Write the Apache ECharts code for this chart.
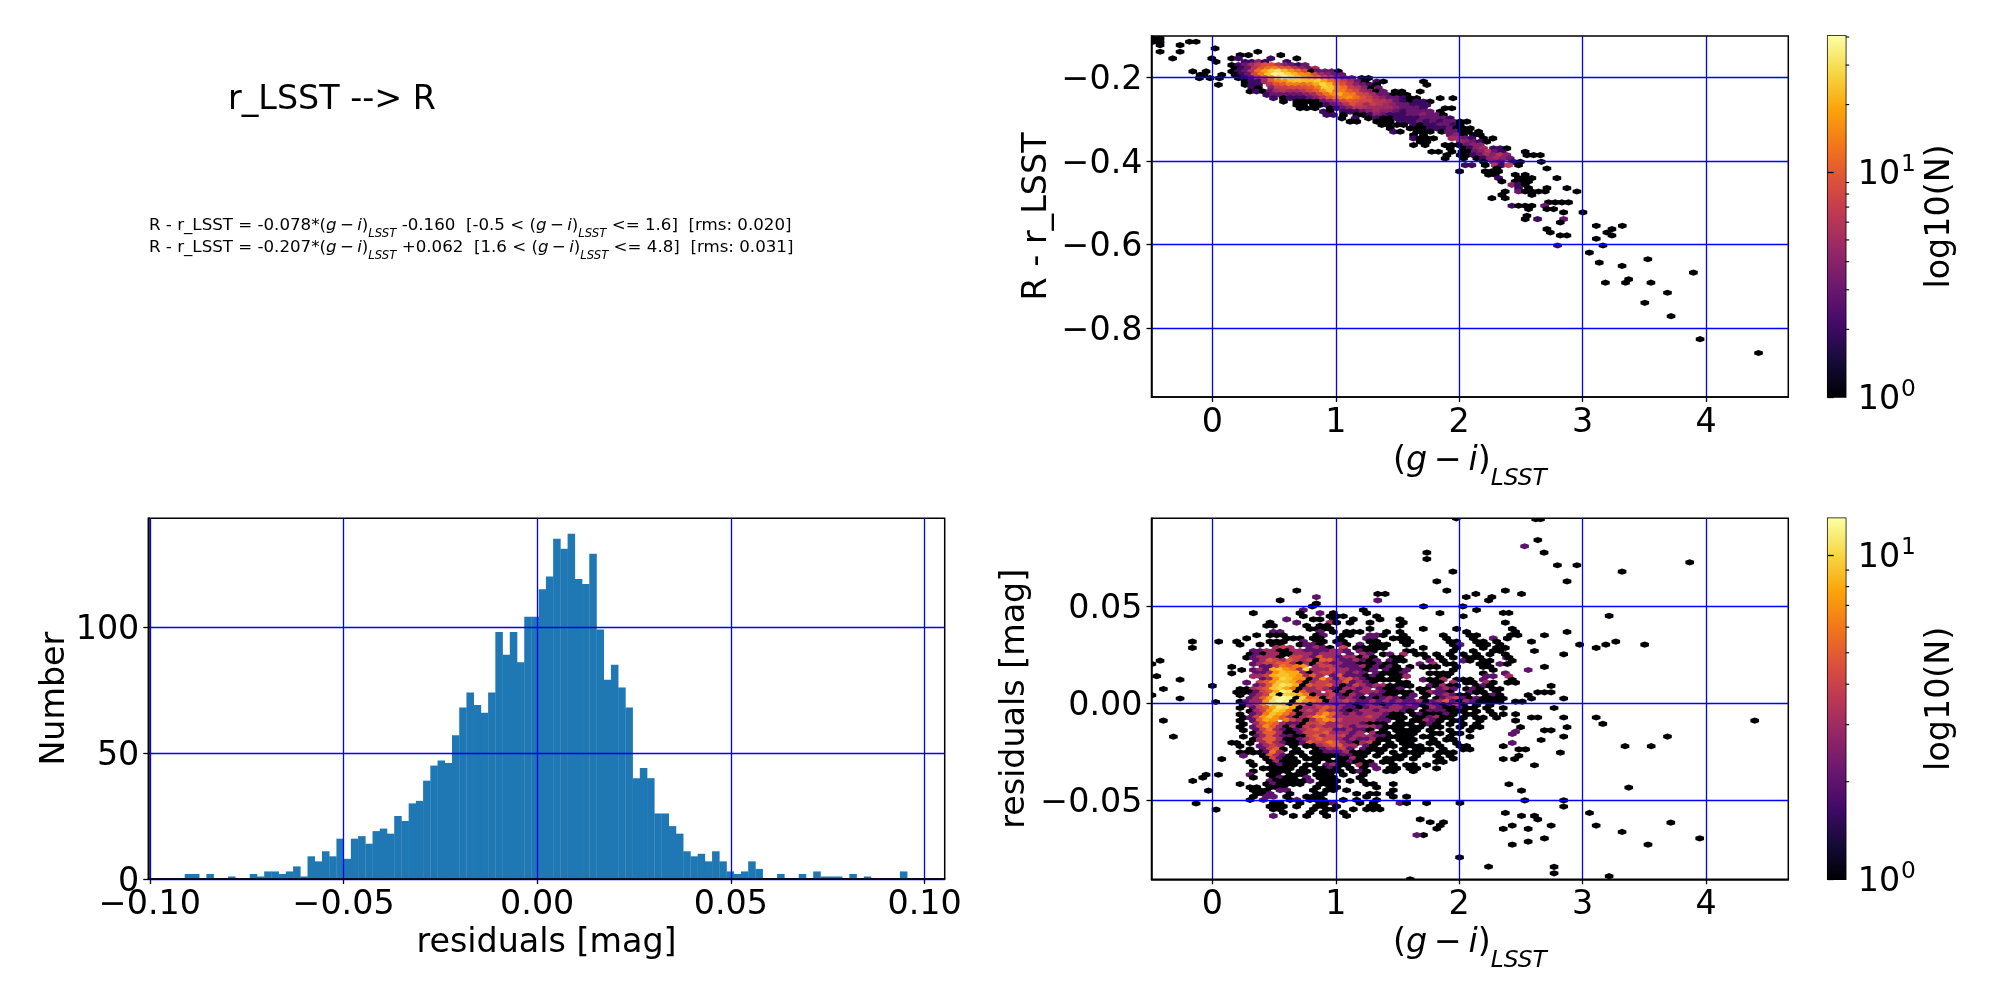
<!DOCTYPE html>
<html><head><meta charset="utf-8">
<style>html,body{margin:0;padding:0;background:#fff}#c{width:2000px;height:1000px}</style>
<script src="https://cdn.jsdelivr.net/npm/echarts@6/dist/echarts.min.js"></script>
</head><body><div id="c"></div>
<script>
// ---------- tick labels ----------
const colourTicks = [0,1,2,3,4];
const topYTicks = [-0.8,-0.6,-0.4,-0.2];
const histXTicks = [-0.1,-0.05,0,0.05,0.1];
const histYTicks = [0,50,100];
const resYTicks = [-0.05,0,0.05];
const cbMajor = [0,1];
const cbMinor = [2,3,4,5,6,7,8,9,20,30,40];
// ---------- histogram ----------
const histStart = -0.0910, histStep = 0.001865;
const histCounts = [2,2,0,2,0,0,1,0,0,2,1,3,3,2,3,5,1,9,7,11,9,16,8,16,17,14,19,20,18,25,23,30,31,39,45,47,46,57,68,74,69,66,74,98,89,98,86,104,104,115,120,135,131,137,119,117,129,99,79,85,76,68,40,44,40,26,26,21,18,11,9,10,7,11,7,3,2,3,7,4,0,0,2,0,0,2,0,3,1,1,1,0,2,0,1,0,0,0,0,3];
// ---------- top hexbin: [y, first x, counts along the row] ----------
const topStep = 0.054, topMax = 40;
const topRuns = [
[-0.107,-0.478,[1,1]],[-0.115,-0.478,[1,1]],[-0.115,-0.186,[1,1]],[-0.123,-0.424,[1]],[-0.123,-0.262,[1]],[-0.131,0.022,[1]],
[-0.139,-0.424,[1]],[-0.139,-0.262,[1]],[-0.139,0.368,[1]],[-0.147,0.224,[1]],[-0.147,0.292,[1]],[-0.147,0.554,[1]],
[-0.155,-0.322,[1]],[-0.155,-0.005,[1]],[-0.155,0.157,[1,2]],[-0.155,0.473,[2]],[-0.155,0.684,[1]],
[-0.163,0.03,[1]],[-0.163,0.265,[2,2,4,2]],[-0.163,0.603,[2]],
[-0.171,0.157,[1,2,3,5,7,9,9,6,4,3,2,3]],
[-0.179,0.184,[1,2,3,6,9,12,14,10,9,6,4,3,5]],
[-0.186,-0.159,[1]],[-0.186,-0.051,[1]],[-0.186,0.157,[1,2,3,6,12,18,25,30,22,16,12,8,1,3,3,3,1]],
[-0.194,-0.1,[1]],[-0.194,-0.068,[1]],[-0.194,0.076,[1]],[-0.194,0.184,[1,2,3,8,14,24,36,34,28,22,16,14,8,5,4,3,3]],
[-0.202,-0.105,[1]],[-0.202,-0.019,[1]],[-0.202,0.057,[1]],[-0.202,0.211,[1,2,3,6,8,16,26,38,32,26,20,16,14,9,7,4,3,3]],[-0.202,1.211,[1,1]],
[-0.21,0.265,[1,2,2,5,10,14,16,22,24,22,22,26,18,12,9,7,5,3,1]],[-0.21,1.332,[2,1]],[-0.21,1.711,[1]],
[-0.218,0.049,[1]],[-0.218,0.265,[1,2,2]],[-0.218,0.468,[6,9,10,14,14,12,14,20,28,22,12,9,6,4,3,2,1]],[-0.218,1.738,[1]],
[-0.226,0.319,[2,1]],[-0.226,0.481,[4,7,7,8,8,9,10,14,26,24,14,12,7,6,4,1,3]],
[-0.234,0.305,[1,2,1,3,5,6,5,5,6,8,10,16,24,14,14,10,8,5,4,1,3]],[-0.234,1.481,[1,1]],[-0.234,1.684,[1]],
[-0.242,0.441,[2,3,3,3,3,3,4,5,8,12,16,20,14,13,8,7,5,3,3,1,1,1]],
[-0.25,0.495,[2]],[-0.25,0.576,[1,2,2,2,3,4,6,10,12,14,16,12,9,7,5,4,3,3,2,1,1]],[-0.25,1.846,[1]],[-0.25,1.949,[1]],
[-0.258,0.576,[1]],[-0.258,0.684,[1,1,1,1,3,4,6,8,10,9,8,8,6,6,5,3,2,1,2,2,1]],
[-0.266,0.684,[1,1]],[-0.266,0.819,[1,1,2,3,4,6,9,7,5,7,6,5,4,3,3,2,2,2]],
[-0.274,0.711,[1,1]],[-0.274,0.832,[1]],[-0.274,0.954,[1,2,3,4,6,6,5,5,5,5,4,3,3,3,2]],[-0.274,1.886,[1,1]],
[-0.282,0.9,[2,1]],[-0.282,1.062,[2,2,2,3,4,5,4,4,3,2,3,3,3,3]],[-0.282,1.846,[1]],
[-0.29,0.927,[2,2]],[-0.29,1.062,[1]],[-0.29,1.17,[1,1,2,4,3,2,2,2,3,3,4,3,3,1]],
[-0.298,1.049,[1]],[-0.298,1.157,[2]],[-0.298,1.265,[1]],[-0.298,1.332,[2,1,1]],[-0.298,1.495,[2,2,2,2,3,3,3,3,2]],
[-0.306,1.116,[1,1]],[-0.306,1.332,[1,1,1]],[-0.306,1.522,[2,2,2,3,2,3,2,3,3,1,1]],
[-0.314,1.373,[1,1]],[-0.314,1.495,[1,1]],[-0.314,1.63,[2,1,2,2,3,3,2,1]],
[-0.322,1.441,[1]],[-0.322,1.603,[1,1,1,2,2,2,3,1,1,1]],
[-0.33,1.468,[2,1]],[-0.33,1.657,[1,1,1]],[-0.33,1.859,[1,3,3,1,1]],[-0.33,2.157,[1]],
[-0.338,1.63,[1]],[-0.338,1.711,[1]],[-0.338,1.927,[3,4,1]],[-0.338,2.116,[1,1]],
[-0.346,1.63,[2,1,1,1]],[-0.346,1.941,[5,5,3,2]],[-0.346,2.197,[1]],[-0.346,2.273,[1]],
[-0.354,1.684,[1,1]],[-0.354,2.008,[5,4,3,2,1]],
[-0.362,1.63,[1]],[-0.362,1.724,[1]],[-0.362,1.886,[1,1,1]],[-0.362,2.062,[3,4,4]],
[-0.37,1.927,[1]],[-0.37,2.035,[1,2,4,5]],[-0.37,2.278,[2,2,1]],
[-0.378,1.778,[1,1]],[-0.378,1.941,[1]],[-0.378,2.022,[1,1,3,4,6,3,2]],[-0.378,2.535,[1]],
[-0.386,1.9,[1]],[-0.386,2.008,[1,1,2,3,5,4,6,4]],[-0.386,2.549,[1,1,1]],
[-0.394,1.886,[1]],[-0.394,2.035,[1]],[-0.394,2.143,[1,2,4,5,4,3]],
[-0.402,2.197,[1]],[-0.402,2.278,[4,3]],[-0.402,2.441,[2,1]],[-0.402,2.665,[1]],
[-0.41,2.049,[2,2]],[-0.41,2.211,[1]],[-0.41,2.292,[6,2,7]],[-0.41,2.481,[1]],
[-0.418,2.305,[1]],[-0.418,2.711,[1]],
[-0.425,2.003,[1]],[-0.425,2.211,[1,1,1]],
[-0.433,2.238,[1,1]],[-0.433,2.454,[1]],[-0.433,2.535,[1]],
[-0.441,2.319,[2]],[-0.441,2.481,[1,1,1]],[-0.441,2.792,[1]],
[-0.449,2.346,[1]],[-0.449,2.454,[1,1,1]],
[-0.457,2.427,[4,2,1]],
[-0.465,2.481,[2]],[-0.465,2.562,[1]],[-0.465,2.711,[1]],[-0.465,2.873,[1]],
[-0.473,2.373,[1]],[-0.473,2.481,[3,1,1,1,1]],[-0.473,2.954,[1]],
[-0.481,2.346,[1]],[-0.481,2.589,[1]],[-0.489,2.265,[1]],[-0.489,2.373,[1]],
[-0.499,2.724,[1,1,1,1]],[-0.507,2.427,[2,1,1,1]],[-0.507,2.692,[3]],
[-0.515,2.562,[1]],[-0.515,2.711,[1,1]],[-0.523,2.846,[1]],[-0.523,3.003,[1]],[-0.531,2.549,[1]],
[-0.539,2.535,[1]],[-0.539,2.635,[2]],[-0.539,2.846,[3]],[-0.547,2.819,[1]],
[-0.555,3.111,[1]],[-0.555,3.322,[1]],[-0.563,2.711,[1]],[-0.563,3.238,[1]],
[-0.571,2.738,[1]],[-0.571,3.197,[1]],[-0.578,2.819,[1,1]],[-0.578,3.238,[1]],
[-0.586,3.111,[1]],[-0.602,2.797,[2]],[-0.602,3.165,[1]],
[-0.619,3.055,[1]],[-0.635,3.529,[1]],[-0.643,3.135,[1]],[-0.651,3.32,[1]],[-0.667,3.898,[1]],
[-0.683,3.373,[1]],[-0.691,3.185,[1]],[-0.691,3.348,[1]],[-0.691,3.554,[1]],[-0.715,3.688,[1]],
[-0.739,3.504,[1]],[-0.771,3.717,[1]],[-0.826,3.952,[1]],[-0.859,4.426,[1]]
];
// ---------- residual hexbin: [y, first x, one base-16 count per cell, . = empty] ----------
const resStep = 0.054, resMax = 13;
const resRows = [
[0.0481,0.197,"..........2........1................1"],
[0.0465,0.224,"..1......1..2.1....1..........1"],
[0.0449,0.197,"..........1...111....1............1"],
[0.0433,0.224,".......2...11.1..1...1..1"],
[0.0416,0.197,".....1...2....31.1..1....1"],
[0.04,0.224,"....11....1.11..........1"],
[0.0384,0.197,"...........1111.....1.......1....1"],
[0.0368,0.224,".....22.....2.1.111...1.1.........1"],
[0.0351,0.197,"...1.111....12..11..221..1.....1...11"],
[0.0335,0.224,".1.....111.11..1...22..111.....1...1..2"],
[0.0318,0.197,"1....111..2.11.11...11...11.....11..11.1"],
[0.0303,0.224,"1..1.11..1221..21.2.111..1......12..11.1"],
[0.0286,0.197,"......343..2321.4.11111.....1....1...1.1"],
[0.027,0.224,"..223311332222332.211....11.....1..1..11"],
[0.0253,0.197,"..12133113332333.2.32.12.3.11.1.1.1.1.1"],
[0.0236,0.224,".123331.4432533233131..11...1.1.1.111...2"],
[0.022,0.197,"...2354354341553223212.211...2.1..21.11."],
[0.0203,0.224,"..2344553131432322111211...2.3.11...11.2"],
[0.0188,0.197,"....2246567.3443222312121.1.111..1...11."],
[0.0172,0.224,"..23289763a3334332212.2112......1.....1"],
[0.0155,0.197,"...22379883134433232.21112...1111....1"],
[0.014,0.224,"..33489987353.25222121.113....11.....22"],
[0.0122,0.197,"....237a97713742453211111...2113.111.2"],
[0.0107,0.224,".2.457998513443352321...11...11.3.11.31"],
[0.009,0.197,"...2359ba815445312432331111..21311..121"],
[0.0074,0.224,"113459a8613343213323.2112..11.232.121.11"],
[0.0057,0.197,"1112458cb1533.4131233321111.13221..211.1"],
[0.0042,0.224,"1.234a1a98613342132.2211.12.1.23211..121"],
[0.0025,0.197,"..2358cdc1a5514323212123212.1.12342121111"],
[0.0009,0.224,"12337bdc1a765133432232323223123521321111"],
[-0.0009,0.197,".1347ba9175143323212321232321321241.1.1"],
[-0.0024,0.224,"1.2458ba8133454322123323322.13211211.1"],
[-0.0041,0.197,"..1347a96134353321233233321.1222111.1.1"],
[-0.0057,0.224,"1.23698641335753232333211.1211121.11..1"],
[-0.0074,0.197,".1247975313478533333432111.112311.1.11.1"],
[-0.0089,0.224,"1.2587.6431357643333322.1.11321.11..1"],
[-0.0107,0.197,".1.35653221445333332111.111.121.1.1.1"],
[-0.0122,0.224,"1.24753131434334323332111.11.11..1.11"],
[-0.0139,0.197,".1.246321234544223221.1.1111.1..1..1"],
[-0.0155,0.224,"..13553112444533323.311.111..11.11"],
[-0.0172,0.197,".1.235322114534442333221111.11..1..1"],
[-0.0187,0.224,"..135531123454432322311.111..1.11"],
[-0.0205,0.197,"1.1.353211254465321341.1.11..11..1"],
[-0.022,0.224,"1..2343.1.11345533.21.11.111..1..11"],
[-0.0237,0.197,"..1.2451.1..123342.2111..1.111.1..11"],
[-0.0253,0.224,"1111263.11.112223111.1.1.111..111"],
[-0.027,0.197,".2..15321.1.11112211.1..11.1..1.1"],
[-0.0285,0.224,"....14211.1111.1131...111.1...1.1"],
[-0.0302,0.197,"..1..13111..1.1112111.11......11"],
[-0.0318,0.224,"..1..1211.11.2311.312..1.11.1"],
[-0.0335,0.197,"....11111.1.1121.1.1.2.11.11..1"],
[-0.035,0.224,"..1..111.11.1111.121..11..1"],
[-0.0368,0.197,"..2..11.111.111.1..1"],
[-0.0383,0.224,"..1..1211.2.111...1"],
[-0.04,0.197,".....2111112.111.1.1"],
[-0.0416,0.224,"1...121111..111....11..1"],
[-0.0433,0.197,"..11.111....1.11.....1"],
[-0.0448,0.224,"..111.22...1.11.1......1"],
[-0.0466,0.197,"...112..1...11....1.11.1"],
[-0.0481,0.224,"..1.22.1..111......1...1.1"],
[-0.0498,0.197,"..1.2...12.111..1.1..1"],
[-0.0514,0.224,".....11..1..112...1.1...21..1....1"],
[-0.0531,0.197,".....111.1..11.1....11"],
[-0.0546,0.224,".....11....1.11..1.111"],
[-0.0563,0.197,".......1...1.1..1"],
[-0.058,0.224,".....2..1.1..1..1"]
];
// ---------- residual hexbin, isolated cells: [x, y, count] ----------
const resSparse = [
[1.976,0.0954,1],[1.738,0.0777,1],[1.738,0.0744,1],[1.949,0.0679,1],[1.819,0.0629,1],[1.9,0.0581,1],[0.684,0.0581,1],
[0.843,0.0548,2],[0.549,0.0531,1],[0.843,0.0514,1],[0.81,0.05,1],[1.34,0.0564,1],[1.4,0.0564,1],[1.34,0.0531,2],[1.711,0.05,1],
[2.057,0.0548,1],[2.135,0.0564,1],[2.265,0.0548,1],[2.238,0.0531,1],[2.03,0.05,1],
[-0.162,0.0318,1],[-0.162,0.0286,1],[0.051,0.0318,1],[0.157,0.0188,1],[0.157,0.0155,1],[0.238,0.0172,1],[-0.424,0.022,1],[-0.49,0.0203,1],
[-0.451,0.014,1],[-0.262,0.0122,1],[-0.397,0.0074,1],[0,0.009,1],[-0.49,0.0042,1],[-0.262,0.0025,1],[0.027,0.0007,1],
[-0.397,-0.0089,1],[-0.316,-0.0172,1],[0.157,-0.0203,1],[-0.159,-0.04,1],[-0.078,-0.0383,1],[-0.051,-0.0368,1],[0.049,-0.0368,1],
[-0.032,-0.045,1],[-0.132,-0.0516,1],[0.03,-0.0548,1],[0.076,-0.0287,1],
[1.711,-0.0679,1],[1.657,-0.0679,2],[1.684,-0.0598,1],[1.765,-0.0613,1],[1.819,-0.0646,1],[1.846,-0.0629,1],[1.873,-0.0613,1],
[2.003,-0.0794,1],[2.238,-0.0842,1],[1.603,-0.0907,1],
[2.62,0.095,1],[2.659,0.095,1],[2.637,0.0842,1],[2.53,0.081,2],[2.688,0.0777,1],[2.796,0.0712,1],[2.954,0.0712,1],[3.32,0.0679,1],
[3.868,0.0727,1],[2.874,0.0629,1],[2.374,0.0581,1],[2.505,0.0564,1],[3.215,0.0451,1],[2.357,0.0466,1],[2.403,0.0466,1],[2.374,0.0416,1],
[2.43,0.0384,1],[2.457,0.0368,1],[2.417,0.0351,1],[2.476,0.0351,1],[2.39,0.0335,1],[2.691,0.0351,1],[2.874,0.0368,1],[2.586,0.0318,1],
[2.976,0.0303,1],[3.11,0.0286,1],[3.188,0.0303,1],[3.269,0.0318,1],[3.503,0.0303,1],[2.374,0.0286,1],[2.61,0.027,1],[2.847,0.0253,1],
[2.374,0.0253,1],[2.403,0.0236,1],[2.43,0.022,1],[2.39,0.0203,1],[2.691,0.0188,1],[2.559,0.0172,2],[2.374,0.0155,2],[2.403,0.014,3],
[2.43,0.0121,1],[2.395,0.0107,1],[2.457,0.0107,1],[2.745,0.009,1],[2.637,0.0057,1],[2.691,0.0057,1],[2.745,0.0057,1],[2.559,0.0042,1],
[2.586,0.0025,1],[2.847,0.0025,1],[2.457,0.0009,1],[2.511,0.0009,1],[2.769,-0.0024,1],[2.357,-0.0024,1],[2.357,-0.0056,1],[2.457,-0.0056,1],
[2.586,-0.0073,1],[2.637,-0.0073,1],[2.847,-0.0073,1],[3.11,-0.0073,1],[3.164,-0.0106,1],[2.457,-0.0089,1],[4.395,-0.0089,1],[2.497,-0.0123,1],
[2.457,-0.0146,2],[2.43,-0.0158,2],[2.874,-0.0123,1],[2.691,-0.0139,1],[2.745,-0.0139,1],[2.847,-0.0171,1],[3.688,-0.0171,1],[2.664,-0.0189,1],
[2.43,-0.0204,2],[2.357,-0.0221,1],[3.344,-0.0221,1],[3.556,-0.0221,1],[2.484,-0.0237,1],[2.538,-0.0237,1],[2.82,-0.0254,1],[2.484,-0.027,1],
[2.449,-0.0287,1],[2.357,-0.0287,1],[2.61,-0.0319,1],[2.403,-0.0417,1],[3.374,-0.0434,1],[2.505,-0.045,1],[2.532,-0.05,1],[2.847,-0.05,1],
[2.847,-0.0532,1],[2.374,-0.0565,1],[3.056,-0.0565,1],[2.505,-0.058,1],[2.61,-0.058,1],[2.637,-0.0598,1],[2.43,-0.063,1],[2.745,-0.063,1],
[3.11,-0.063,1],[3.715,-0.0615,1],[2.357,-0.0647,1],[2.559,-0.0647,1],[3.32,-0.0663,1],[2.691,-0.0696,1],[3.949,-0.0696,1],[2.559,-0.0713,1],
[2.43,-0.0728,1],[3.53,-0.0728,1],[2.769,-0.0843,1],[2.769,-0.0876,1],[3.215,-0.0891,1]
];
// ---------- colour map stops ----------
const inferno = ['#000004','#160b39','#420a68','#6a176e','#932667','#bc3754','#dd513a','#f37819','#fca50a','#f6d746','#fcffa4'];

const F = 'DejaVu Sans';
const FS = 33.33;
const topCells = [];
topRuns.forEach(r => r[2].forEach((n,i) => { if (n) topCells.push([r[1]+i*topStep, r[0], n]); }));
const resCells = [];
resRows.forEach(r => r[2].split('').forEach((ch,i) => { const n = parseInt(ch,16); if (n) resCells.push([r[1]+i*resStep, r[0], n]); }));
resSparse.forEach(c => resCells.push(c));

function hex2rgb(h){return [1,3,5].map(i=>parseInt(h.substr(i,2),16));}
function cmap(t){
  t=Math.max(0,Math.min(1,t))*(inferno.length-1);
  const i=Math.min(Math.floor(t),inferno.length-2),f=t-i,a=hex2rgb(inferno[i]),b=hex2rgb(inferno[i+1]);
  return 'rgb('+a.map((v,k)=>Math.round(v+(b[k]-v)*f)).join(',')+')';
}
function hexSeries(cells,ax,w,h,max){
  return {type:'custom',coordinateSystem:'cartesian2d',xAxisIndex:ax,yAxisIndex:ax,clip:true,silent:true,animation:false,z:2,
    data:cells,encode:{x:0,y:1},
    renderItem:(p,api)=>{
      const c=api.coord([api.value(0),api.value(1)]),s=api.size([w,h]),W=s[0]/2,H=s[1]/2;
      return {type:'polygon',shape:{points:[[c[0],c[1]-H],[c[0]+W,c[1]-H/2],[c[0]+W,c[1]+H/2],[c[0],c[1]+H],[c[0]-W,c[1]+H/2],[c[0]-W,c[1]-H/2]]},
        style:{fill:cmap(Math.log(api.value(2))/Math.log(max))}};
    }};
}
// colour bars use an axis in decades (log10 of N), as the bar's label says
function colourBar(ax,topDecade){
  return {type:'custom',coordinateSystem:'cartesian2d',xAxisIndex:ax,yAxisIndex:ax,silent:true,animation:false,z:1,clip:false,
    data:[[0,0,1,topDecade]],encode:{x:[0,2],y:[1,3]},
    renderItem:(p,api)=>{
      const a=api.coord([0,0]),b=api.coord([1,topDecade]);
      return {type:'rect',shape:{x:a[0],y:b[1],width:b[0]-a[0],height:a[1]-b[1]},
        style:{fill:new echarts.graphic.LinearGradient(0,1,0,0,inferno.map((c,i)=>({offset:i/(inferno.length-1),color:c})))}};
    }};
}
function minorTicks(ax,topDecade){
  return {type:'custom',coordinateSystem:'cartesian2d',xAxisIndex:ax,yAxisIndex:ax,silent:true,animation:false,z:6,clip:false,
    data:cbMinor.filter(v=>Math.log10(v)<topDecade).map(v=>[1,Math.log10(v)]),encode:{x:0,y:1},
    renderItem:(p,api)=>{
      const c=api.coord([1,api.value(1)]);
      return {type:'line',shape:{x1:c[0],y1:c[1],x2:c[0]+3.5,y2:c[1]},style:{stroke:'#000',lineWidth:1.1}};
    }};
}
const rich = {
  n:{fontFamily:F,fontSize:FS,color:'#000'},
  i:{fontFamily:F,fontSize:FS,fontStyle:'italic',color:'#000'},
  s:{fontFamily:F,fontSize:23.3,fontStyle:'italic',color:'#000',verticalAlign:'bottom',lineHeight:40,padding:[0,0,-9,0]},
  n2:{fontFamily:F,fontSize:16.67,color:'#000'},
  i2:{fontFamily:F,fontSize:16.67,fontStyle:'italic',color:'#000'},
  s2:{fontFamily:F,fontSize:11.7,fontStyle:'italic',color:'#000',verticalAlign:'bottom',lineHeight:20,padding:[0,0,-4,0]},
  b:{fontFamily:F,fontSize:FS,color:'#000',lineHeight:44,padding:[7,0,0,0]},
  u:{fontFamily:F,fontSize:23.3,color:'#000',verticalAlign:'top',lineHeight:30,padding:[3,0,0,1]},
  v:{fontFamily:F,fontSize:FS,color:'#000',padding:[6,0,0,0]}
};
const gi = '{n|(}{i|g}{n|\u2009\u2212\u2009}{i|i}{n|)}{s|LSST}';
const gi2 = '{n2|(}{i2|g}{n2|\u2009\u2212\u2009}{i2|i}{n2|)}{s2|LSST}';
const minus = s => s.replace('-','\u2212');
const line = {show:true,onZero:false,lineStyle:{color:'#000',width:1.5}};
const tick = {show:true,length:5,lineStyle:{color:'#000',width:1.3}};
const split = {show:true,lineStyle:{color:'#0000ff',width:1.3}};
function valueAxis(o){
  return Object.assign({type:'value',z:5,axisLine:line,splitLine:split,nameTextStyle:{fontFamily:F,fontSize:FS,color:'#000',rich},
    nameLocation:'middle'},o);
}
function xA(idx,min,max,ticks,fmt,name,gap){
  return valueAxis({gridIndex:idx,min,max,name,nameGap:gap,
    axisTick:Object.assign({customValues:ticks},tick),
    axisLabel:{customValues:ticks,formatter:fmt,fontFamily:F,fontSize:FS,color:'#000',margin:10,showMinLabel:true,showMaxLabel:true,hideOverlap:false}});
}
function yA(idx,min,max,ticks,fmt,name,gap){
  return valueAxis({gridIndex:idx,min,max,name,nameGap:gap,
    axisTick:Object.assign({customValues:ticks},tick),
    axisLabel:{customValues:ticks,formatter:v=>'{v|'+fmt(v)+'}',rich,fontFamily:F,fontSize:FS,color:'#000',margin:9,showMinLabel:true,showMaxLabel:true,hideOverlap:false}});
}
const cbX = i => ({type:'value',gridIndex:i,min:0,max:1,show:false});
const cbY = (i,top) => ({type:'value',gridIndex:i,min:0,max:top,position:'right',z:5,
  axisLine:{show:false},splitLine:{show:false},
  axisTick:{show:true,length:6,customValues:cbMajor,lineStyle:{color:'#000',width:1.3}},
  axisLabel:{customValues:cbMajor,fontFamily:F,fontSize:FS,color:'#000',margin:12,rich,showMinLabel:true,hideOverlap:false,
    formatter:v=>'{b|10}{u|'+v+'}'},
  name:'log10(N)',nameLocation:'middle',nameRotate:90,nameGap:78,nameTextStyle:{fontFamily:F,fontSize:FS,color:'#000'}});
const xFmt1 = v => minus(String(v));
const f2 = v => minus(v.toFixed(2));
const f1 = v => minus(v.toFixed(1));
const g = (left,top,width,height) => ({left,top,width,height,show:true,borderColor:'#000',borderWidth:1.5,backgroundColor:'transparent'});
const topDecade = Math.log10(40.4), resDecade = Math.log10(13);

const option = {
  backgroundColor:'#fff',animation:false,
  title:[
    {text:'r_LSST --> R',left:228,top:84,padding:0,textStyle:{fontFamily:F,fontSize:FS,fontWeight:'normal',color:'#000'}},
    {text:'R - r_LSST = -0.078*'+gi2+' -0.160  [-0.5 < '+gi2+' <= 1.6]  [rms: 0.020]',left:149,top:216,padding:0,
      textStyle:{fontFamily:F,fontSize:16.67,fontWeight:'normal',color:'#000',rich}},
    {text:'R - r_LSST = -0.207*'+gi2+' +0.062  [1.6 < '+gi2+' <= 4.8]  [rms: 0.031]',left:149,top:238,padding:0,
      textStyle:{fontFamily:F,fontSize:16.67,fontWeight:'normal',color:'#000',rich}}
  ],
  grid:[g(1151.5,36,636.8,361),g(148.3,518.3,796.4,360.7),g(1151.5,518.3,636.8,361),g(1827.7,36,18,361),g(1827.7,518.3,18,361)],
  xAxis:[
    xA(0,-0.4935,4.667,colourTicks,xFmt1,gi,44),
    xA(1,-0.1004,0.1052,histXTicks,f2,'residuals [mag]',48),
    xA(2,-0.4935,4.667,colourTicks,xFmt1,gi,44),
    cbX(3),cbX(4)
  ],
  yAxis:[
    yA(0,-0.9642,-0.1013,topYTicks,f1,'R - r_LSST',98),
    yA(1,0,143.1,histYTicks,v=>String(v),'Number',76),
    yA(2,-0.0907,0.0954,resYTicks,f2,'residuals [mag]',120),
    cbY(3,topDecade),cbY(4,resDecade)
  ],
  series:[
    hexSeries(topCells,0,0.07,0.0148,topMax),
    {type:'custom',coordinateSystem:'cartesian2d',xAxisIndex:1,yAxisIndex:1,silent:true,animation:false,z:2,
      data:histCounts.map((c,k)=>[histStart+k*histStep,histStart+(k+1)*histStep,c]),encode:{x:[0,1],y:2},
      renderItem:(p,api)=>{
        const a=api.coord([api.value(0),0]),b=api.coord([api.value(1),api.value(2)]);
        return {type:'rect',shape:{x:a[0],y:b[1],width:b[0]-a[0]+0.3,height:a[1]-b[1]},style:{fill:'#1f77b4'}};
      }},
    hexSeries(resCells,2,0.07,0.0032,resMax),
    colourBar(3,topDecade),colourBar(4,resDecade),minorTicks(3,topDecade),minorTicks(4,resDecade)
  ]
};
const chart = echarts.init(document.getElementById('c'),null,{renderer:'canvas',width:2000,height:1000});
chart.setOption(option);
</script></body></html>
